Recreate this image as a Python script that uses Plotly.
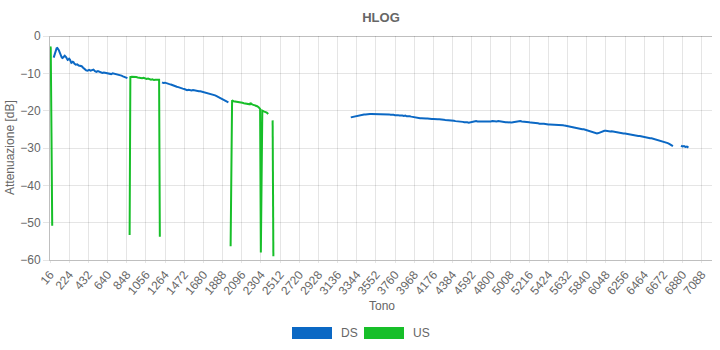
import plotly.graph_objects as go

# ---------------- data ----------------
x_ticks = [16, 224, 432, 640, 848, 1056, 1264, 1472, 1680, 1888, 2096, 2304, 2512,
           2720, 2928, 3136, 3344, 3552, 3760, 3968, 4176, 4384, 4592, 4800, 5008,
           5216, 5424, 5632, 5840, 6048, 6256, 6464, 6672, 6880, 7088]

ds_tones = [56, 64, 72, 80, 88, 96, 104, 112, 120, 128, 136, 144, 152, 160, 168, 176, 184,
            192, 200, 208, 216, 224, 232, 240, 248, 256, 264, 272, 280, 296, 312, 328, 344,
            360, 376, 392, 408, 424, 440, 456, 472, 488, 504, 520, 536, 552, 568, 584, 600,
            616, 632, 648, 664, 680, 696, 712, 728, 744, 760, 776, 792, 808, 824, 840, 856,
            864,
            1232, 1248, 1264, 1280, 1296, 1312, 1328, 1344, 1360, 1376, 1392, 1408, 1424, 1440,
            1456, 1472, 1488, 1504, 1520, 1536, 1552, 1568, 1584, 1600, 1616, 1632, 1648, 1664,
            1680, 1696, 1712, 1728, 1744, 1760, 1776, 1792, 1808, 1824, 1840, 1856, 1872, 1888,
            1904, 1920, 1936, 1952,
            1960,
            3280, 3296, 3312, 3328, 3344, 3360, 3376, 3392, 3408, 3424, 3440, 3456, 3472, 3488,
            3504, 3520, 3536, 3552, 3568, 3584, 3600, 3616, 3632, 3648, 3664, 3680, 3696, 3712,
            3728, 3744, 3760, 3776, 3792, 3808, 3824, 3840, 3856, 3872, 3888, 3904, 3920, 3936,
            3952, 3968, 3984, 4000, 4016, 4032, 4048, 4064, 4080, 4096, 4112, 4128, 4144, 4160,
            4176, 4192, 4208, 4224, 4240, 4256, 4272, 4288, 4304, 4320, 4336, 4352, 4368, 4384,
            4400, 4416, 4432, 4448, 4464, 4480, 4496, 4512, 4528, 4544, 4560, 4576, 4592, 4608,
            4624, 4640, 4656, 4672, 4688, 4704, 4720, 4736, 4752, 4768, 4784, 4800, 4816, 4832,
            4848, 4864, 4880, 4896, 4912, 4928, 4944, 4960, 4976, 4992, 5008, 5024, 5040, 5056,
            5072, 5088, 5104, 5120, 5136, 5152, 5168, 5184, 5200, 5216, 5232, 5248, 5264, 5280,
            5296, 5312, 5328, 5344, 5360, 5376, 5392, 5408, 5424, 5440, 5456, 5472, 5488, 5504,
            5520, 5536, 5552, 5568, 5584, 5600, 5616, 5632, 5648, 5664, 5680, 5696, 5712, 5728,
            5744, 5760, 5776, 5792, 5808, 5824, 5840, 5856, 5872, 5888, 5904, 5920, 5936, 5952,
            5968, 5984, 6000, 6016, 6032, 6048, 6064, 6080, 6096, 6112, 6128, 6144, 6160, 6176,
            6192, 6208, 6224, 6240, 6256, 6272, 6288, 6304, 6320, 6336, 6352, 6368, 6384, 6400,
            6416, 6432, 6448, 6464, 6480, 6496, 6512, 6528, 6544, 6560, 6576, 6592, 6608, 6624,
            6640, 6656, 6672, 6688, 6704, 6720, 6736, 6752, 6768, 6776,
            6820,
            6864, 6880, 6896, 6912, 6928, 6944]

ds_values = [-5.8, -5.2, -4.2, -3.6, -3.3, -3.2, -3.4, -3.8, -4.3, -4.9, -5.4, -5.8, -5.9, -5.8,
             -5.5, -5.3, -5.4, -5.7, -6.1, -6.4, -6.3, -6.1, -6.3, -6.8, -7.2, -7.1, -6.9, -7.0,
             -7.4, -7.7, -7.6, -7.9, -8.0, -8.1, -8.5, -8.9, -9.2, -9.3, -9.1, -9.3, -9.2, -9.0,
             -9.4, -9.6, -9.4, -9.6, -9.8, -9.9, -9.8, -9.9, -10.1, -10.2, -10.1, -10.2, -10.0,
             -10.1, -10.0, -10.1, -10.3, -10.5, -10.6, -10.8, -10.9, -11.0, -11.3,
             None,
             -12.4, -12.6, -12.5, -12.7, -12.8, -12.9, -13.0, -13.2, -13.3, -13.5, -13.6, -13.7,
             -13.9, -14.0, -14.1, -14.2, -14.4, -14.5, -14.4, -14.6, -14.6, -14.5, -14.6, -14.7,
             -14.7, -14.8, -14.8, -14.9, -14.9, -15.0, -15.1, -15.2, -15.3, -15.5, -15.6, -15.8,
             -15.9, -16.1, -16.3, -16.5, -16.7, -16.9, -17.1, -17.3, -17.5, -17.8,
             None,
             -21.8, -21.7, -21.6, -21.5, -21.4, -21.3, -21.2, -21.2, -21.1, -21.0, -21.0, -20.9,
             -21.0, -20.9, -20.9, -20.9, -20.8, -20.9, -20.9, -20.8, -20.9, -21.0, -20.9, -20.9,
             -21.0, -20.9, -21.0, -21.1, -21.0, -21.1, -21.2, -21.1, -21.2, -21.3, -21.2, -21.3,
             -21.4, -21.3, -21.5, -21.4, -21.5, -21.6, -21.7, -21.8, -21.8, -21.9, -21.9, -22.0,
             -22.0, -22.1, -22.0, -22.1, -22.1, -22.2, -22.1, -22.2, -22.2, -22.3, -22.2, -22.3,
             -22.3, -22.4, -22.3, -22.4, -22.5, -22.5, -22.6, -22.5, -22.6, -22.7, -22.7, -22.8,
             -22.8, -22.9, -22.9, -23.0, -23.0, -23.1, -23.0, -23.1, -23.2, -23.1, -23.0, -22.9,
             -22.8, -22.8, -22.9, -22.9, -23.0, -22.9, -23.0, -23.0, -22.9, -23.0, -23.1, -22.9,
             -22.8, -22.9, -22.8, -22.9, -22.8, -22.9, -23.0, -23.1, -23.0, -23.1, -23.1, -23.2,
             -23.1, -23.2, -23.1, -23.0, -22.9, -22.8, -22.9, -22.8, -22.9, -22.9, -23.0, -22.9,
             -23.1, -23.1, -23.2, -23.2, -23.3, -23.3, -23.4, -23.4, -23.5, -23.4, -23.5, -23.5,
             -23.6, -23.6, -23.7, -23.7, -23.7, -23.8, -23.7, -23.8, -23.8, -23.8, -23.9, -23.9,
             -23.9, -24.0, -24.1, -24.2, -24.3, -24.4, -24.5, -24.5, -24.6, -24.7, -24.8, -24.8,
             -24.9, -25.0, -25.0, -25.1, -25.2, -25.3, -25.5, -25.6, -25.8, -25.9, -26.0, -26.1,
             -26.0, -25.8, -25.6, -25.5, -25.4, -25.4, -25.5, -25.5, -25.6, -25.5, -25.6, -25.7,
             -25.8, -25.8, -25.9, -25.9, -26.0, -26.1, -26.1, -26.2, -26.3, -26.4, -26.4, -26.5,
             -26.6, -26.6, -26.7, -26.8, -26.8, -26.9, -27.0, -27.1, -27.1, -27.2, -27.3, -27.4,
             -27.4, -27.5, -27.6, -27.7, -27.8, -27.9, -28.0, -28.1, -28.2, -28.4, -28.5, -28.7,
             -28.9, -29.1, -29.3, -29.5,
             None,
             -29.4, -29.6, -29.5, -29.7, -29.6, -29.9]

us_tones = [20, 24, 32, 40,
            60,
            880, 888, 904, 920, 936, 952, 968, 984, 1000, 1016, 1032, 1048, 1064, 1080, 1096,
            1112, 1128, 1144, 1160, 1176, 1192, 1200, 1208,
            1500,
            1976, 1992, 2008, 2024, 2040, 2056, 2072, 2088, 2104, 2120, 2136, 2152, 2168, 2184,
            2192, 2200, 2216, 2232, 2248, 2264, 2280, 2296, 2304, 2320, 2336, 2352, 2368, 2384,
            2408,
            2432, 2440]

us_values = [-2.8, -3.2, -26.0, -50.8,
             None,
             -53.3, -11.0, -10.9, -11.0, -11.1, -11.0, -11.1, -11.2, -11.1, -11.3, -11.2, -11.4,
             -11.5, -11.4, -11.6, -11.7, -11.6, -11.8, -11.7, -11.7, -11.6, -11.7, -53.8,
             None,
             -56.3, -17.2, -17.5, -17.6, -17.7, -17.8, -17.8, -17.9, -17.9, -18.0, -18.1, -18.0,
             -18.2, -18.3, -17.9, -18.2, -18.4, -18.5, -18.7, -18.8, -19.1, -19.5, -58.0, -20.0,
             -20.2, -20.3, -20.5, -20.9,
             None,
             -22.6, -59.0]

series_names = ["DS", "US"]
series_colors = ["#0b68c4", "#17bf29"]

# ---------------- figure ----------------
FONT = "Liberation Sans, Arial, Helvetica, sans-serif"
GREY = "#666666"
GRID = "rgba(0,0,0,0.1)"
AXIS = "rgba(0,0,0,0.25)"

fig = go.Figure()
for name, xs, ys, col in [(series_names[0], ds_tones, ds_values, series_colors[0]),
                          (series_names[1], us_tones, us_values, series_colors[1])]:
    fig.add_trace(go.Scatter(x=xs, y=ys, mode="lines", name=name,
                             line=dict(color=col, width=2), connectgaps=False,
                             showlegend=False))

W, H = 720, 350
L, R, T, B = 50, 8, 36, 90
pw, ph = W - L - R, H - T - B


def px(x):
    return (x - L) / pw


def py(y):
    return (H - B - y) / ph


fig.update_layout(
    width=W, height=H,
    margin=dict(l=L, r=R, t=T, b=B),
    paper_bgcolor="white", plot_bgcolor="white",
    font=dict(family=FONT, size=12, color=GREY),
    title=dict(text="<b>HLOG</b>", x=0.5, xref="paper", xanchor="center",
               y=1 - 17 / H, yref="container", yanchor="middle",
               font=dict(family=FONT, size=13, color=GREY)),
    xaxis=dict(range=[16, 7200], tickvals=x_ticks, ticktext=[str(t) for t in x_ticks],
               tickangle=-50, showgrid=True, gridcolor=GRID, gridwidth=1,
               showline=True, linecolor=AXIS, linewidth=1, zeroline=False,
               ticks="outside", ticklen=2, tickcolor=GRID,
               tickfont=dict(family=FONT, size=12, color=GREY)),
    yaxis=dict(range=[-60, 0], tickvals=[0, -10, -20, -30, -40, -50, -60],
               showgrid=True, gridcolor=GRID, gridwidth=1,
               showline=True, linecolor=AXIS, linewidth=1,
               zeroline=True, zerolinecolor=AXIS, zerolinewidth=1,
               ticks="outside", ticklen=6, tickcolor=GRID,
               tickfont=dict(family=FONT, size=12, color=GREY)),
    showlegend=False,
)

# axis titles
fig.add_annotation(text="Attenuazione [dB]", x=px(10), y=0.5, xref="paper", yref="paper",
                   textangle=-90, showarrow=False, xanchor="center", yanchor="middle",
                   font=dict(family=FONT, size=12, color=GREY))
fig.add_annotation(text="Tono", x=px(382), y=py(306), xref="paper", yref="paper",
                   showarrow=False, xanchor="center", yanchor="middle",
                   font=dict(family=FONT, size=12, color=GREY))

# legend (Chart.js style boxes)
leg = [(292, series_names[0], series_colors[0]), (364, series_names[1], series_colors[1])]
for x0, name, col in leg:
    fig.add_shape(type="rect", xref="paper", yref="paper",
                  x0=px(x0), x1=px(x0 + 40), y0=py(339), y1=py(327),
                  fillcolor=col, line=dict(width=0))
    fig.add_annotation(text=name, x=px(x0 + 47), y=py(333), xref="paper", yref="paper",
                       showarrow=False, xanchor="left", yanchor="middle",
                       font=dict(family=FONT, size=12, color=GREY))

fig.write_html("out.html")
